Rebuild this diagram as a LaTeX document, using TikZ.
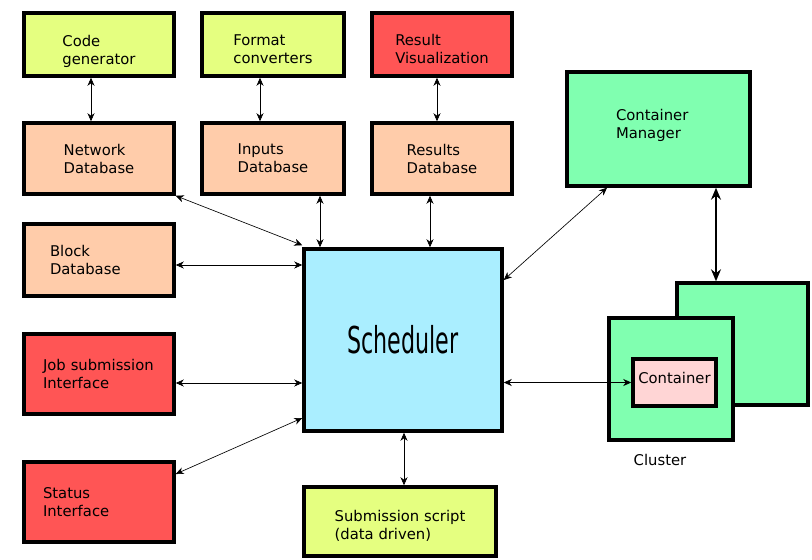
\documentclass[tikz,border=0pt]{standalone}
\usepackage{fontspec}
\setmainfont{DejaVu Sans}
\usepackage{tikz}
\usetikzlibrary{arrows.meta,positioning}

\definecolor{limeyellow}{RGB}{229,255,128}
\definecolor{peach}{RGB}{255,204,170}
\definecolor{redbox}{RGB}{255,85,85}
\definecolor{skyblue}{RGB}{170,238,255}
\definecolor{mint}{RGB}{128,255,176}
\definecolor{pinkbox}{RGB}{255,213,213}

\begin{document}
\begin{tikzpicture}[x=1pt,y=-1pt,
	block/.style={draw, line width=3.5pt, align=left, font=\fontsize{14.8}{18}\selectfont},
	toprow/.style={block, minimum height=63, text height=38pt},
	link/.style={{Stealth[length=8pt,width=7pt,inset=2.5pt]}-{Stealth[length=8pt,width=7pt,inset=2.5pt]}, line width=0.65pt},
	biglink/.style={{Stealth[length=12pt,width=10pt,inset=4pt]}-{Stealth[length=12pt,width=10pt,inset=4pt]}, line width=1.5pt}]

	\useasboundingbox (0,0) rectangle (812,560);

	% top row
	\node (codegen) [toprow, fill=limeyellow, minimum width=150, text height=43pt] at (99,44.5) {Code\\generator};
	\node (formatconv) [toprow, fill=limeyellow, minimum width=142] at (273,44.5) {Format\\converters};
	\node (resultvis) [toprow, fill=redbox, minimum width=140] at (442,44.5) {Result\\Visualization};

	% databases
	\node (netdb) [block, fill=peach, minimum width=150, minimum height=71] at (99,158.5) {Network\\Database};
	\node (inputdb) [block, fill=peach, minimum width=142, minimum height=71] at (273,158.5) {Inputs\\Database};
	\node (resultdb) [block, fill=peach, minimum width=140, minimum height=71] at (442,158.5) {Results\\Database};
	\node (blockdb) [block, fill=peach, minimum width=150, minimum height=72, text width=98] at (99,260) {Block\\Database};

	% interfaces
	\node (jobsub) [block, fill=redbox, minimum width=150, minimum height=80, text width=112] at (99,374) {Job submission\\Interface};
	\node (status) [block, fill=redbox, minimum width=150, minimum height=80, text width=112] at (99,502) {Status\\Interface};

	% scheduler
	\node (sched) [block, fill=skyblue, minimum width=198, minimum height=182] at (403,340)
		{\scalebox{0.6}[1]{\fontsize{37}{40}\selectfont Scheduler}};
	\node (subscript) [block, fill=limeyellow, minimum width=192, minimum height=69, text height=37pt] at (400,521.5) {Submission script\\(data driven)};

	% containers
	\node (contmgr) [block, fill=mint, minimum width=183, minimum height=114, text width=85, text height=5pt] at (658.5,129) {Container\\Manager};
	\node (clusterback) [block, fill=mint, minimum width=131, minimum height=122] at (742.5,344) {};
	\node (clusterfront) [block, fill=mint, minimum width=124, minimum height=122] at (671,379) {};
	\node (container) [block, fill=pinkbox, minimum width=83, minimum height=47, inner sep=1pt, text depth=10pt] at (674.5,382.5) {Container};
	\node (clusterlbl) [font=\fontsize{14.8}{18}\selectfont] at (660,460) {Cluster};

	% connectors
	\draw [link] ([xshift=-8pt]codegen.south) -- ([xshift=-8pt]netdb.north);
	\draw [link] ([xshift=-13pt]formatconv.south) -- ([xshift=-13pt]inputdb.north);
	\draw [link] ([xshift=-5pt]resultvis.south) -- ([xshift=-5pt]resultdb.north);
	\draw [link] (netdb.south east) -- ([yshift=2pt]sched.north west);
	\draw [link] ([xshift=47pt]inputdb.south) -- ([xshift=-83pt]sched.north);
	\draw [link] ([xshift=-12pt]resultdb.south) -- ([xshift=27pt]sched.north);
	\draw [link] ([yshift=-5pt]blockdb.east) -- ([yshift=-5pt]blockdb.east -| sched.west);
	\draw [link] ([yshift=-9pt]jobsub.east) -- ([yshift=-9pt]jobsub.east -| sched.west);
	\draw [link] ([yshift=28pt]status.east) -- ([yshift=-78pt]sched.west);
	\draw [link] ([xshift=1pt]sched.south) -- ([xshift=1pt]sched.south |- subscript.north);
	\draw [link] ([yshift=60pt]sched.east) -- ([xshift=-51.5pt]contmgr.south);
	\draw [link] (container.west) -- (container.west -| sched.east);
	\draw [biglink] ([xshift=-26.5pt]clusterback.north) -- ([xshift=-26.5pt]clusterback.north |- contmgr.south);

\end{tikzpicture}
\end{document}
